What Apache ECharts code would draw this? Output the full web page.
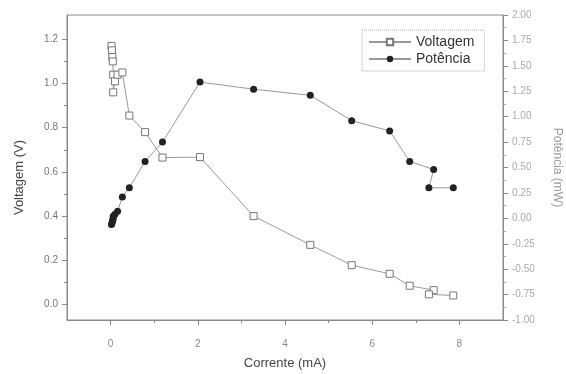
<!DOCTYPE html>
<html>
<head>
<meta charset="utf-8">
<script src="https://cdn.jsdelivr.net/npm/echarts@6/dist/echarts.min.js"></script>
<style>
  html, body { margin: 0; padding: 0; background: #fff; }
  #chart { width: 566px; height: 374px; }
</style>
</head>
<body>
<div id="chart"></div>
<script>
// Corrente (mA), shared by both curves
const current = [0.02, 0.03, 0.04, 0.05, 0.06, 0.06, 0.10, 0.16, 0.27, 0.43, 0.79, 1.19, 2.05, 3.28, 4.58, 5.53, 6.40, 6.86, 7.41, 7.30, 7.86];
// Voltagem (V)
const voltage = [1.17, 1.15, 1.12, 1.10, 1.04, 0.96, 1.01, 1.04, 1.05, 0.855, 0.78, 0.665, 0.667, 0.40, 0.27, 0.178, 0.139, 0.085, 0.065, 0.046, 0.041];
// Potência (mW)
const power = [-0.06, -0.05, -0.03, -0.02, 0.00, 0.02, 0.04, 0.07, 0.21, 0.30, 0.56, 0.75, 1.34, 1.27, 1.21, 0.96, 0.86, 0.56, 0.48, 0.30, 0.30];

const xMajor = [0, 2, 4, 6, 8];
const xMinor = [1, 3, 5, 7];
const vMajor = [0, 0.2, 0.4, 0.6, 0.8, 1.0, 1.2];
const vMinor = [0.1, 0.3, 0.5, 0.7, 0.9, 1.1];

const chart = echarts.init(document.getElementById('chart'));

const axisGrey = '#8a8a8a';
const font = 'Liberation Sans, Arial, sans-serif';

const option = {
    animation: false,
    grid: {
        left: 67, right: 63, top: 15, bottom: 54,
        outerBoundsMode: 'none',
        containLabel: false,
        show: true, borderColor: axisGrey, borderWidth: 1, backgroundColor: 'transparent'
    },
    legend: {
        left: 362, top: 30,
        orient: 'vertical',
        itemWidth: 42, itemHeight: 8, itemGap: 3,
        padding: [5, 10, 5, 6],
        borderColor: '#aaa', borderWidth: 1, borderType: 'dotted',
        textStyle: { fontSize: 14, color: '#333', fontFamily: font },
        data: ['Voltagem', 'Potência']
    },
    xAxis: [{
        type: 'value', min: -1, max: 9, position: 'bottom',
        name: 'Corrente (mA)', nameLocation: 'middle', nameGap: 37,
        nameTextStyle: { fontSize: 13, color: '#444', fontFamily: font },
        axisLine: { show: true, onZero: false, lineStyle: { color: axisGrey } },
        axisTick: { show: true, customValues: xMajor, length: 5, lineStyle: { color: axisGrey } },
        axisLabel: { customValues: xMajor, margin: 19, fontSize: 10, color: '#888', fontFamily: font },
        splitLine: { show: false }
    }, {
        type: 'value', min: -1, max: 9, position: 'bottom',
        axisLine: { show: false, onZero: false },
        axisTick: { show: true, customValues: xMinor, length: 3, lineStyle: { color: axisGrey } },
        axisLabel: { show: false },
        splitLine: { show: false }
    }],
    yAxis: [{
        type: 'value', min: -0.07, max: 1.31, position: 'left',
        name: 'Voltagem (V)', nameLocation: 'middle', nameGap: 41, nameRotate: 90,
        nameTextStyle: { fontSize: 13, color: '#444', fontFamily: font, padding: [0, 20, 0, 0] },
        axisLine: { show: true, onZero: false, lineStyle: { color: axisGrey } },
        axisTick: { show: true, customValues: vMajor, length: 5, lineStyle: { color: axisGrey } },
        axisLabel: {
            customValues: vMajor, margin: 9, fontSize: 10, color: '#777', fontFamily: font,
            formatter: v => v.toFixed(1)
        },
        splitLine: { show: false }
    }, {
        type: 'value', min: -1, max: 2, interval: 0.25, position: 'right',
        name: 'Potência (mW)', nameLocation: 'middle', nameGap: 48, nameRotate: -90,
        nameTextStyle: { fontSize: 12, color: '#999', fontFamily: font },
        axisLine: { show: true, onZero: false, lineStyle: { color: axisGrey } },
        axisTick: { show: true, length: 5, lineStyle: { color: axisGrey } },
        minorTick: { show: true, splitNumber: 2, length: 3, lineStyle: { color: '#aaa' } },
        axisLabel: {
            margin: 9, fontSize: 10, color: '#aaa', fontFamily: font,
            formatter: v => v.toFixed(2)
        },
        splitLine: { show: false }
    }, {
        type: 'value', min: -0.07, max: 1.31, position: 'left',
        axisLine: { show: false, onZero: false },
        axisTick: { show: true, customValues: vMinor, length: 3, lineStyle: { color: axisGrey } },
        axisLabel: { show: false },
        splitLine: { show: false }
    }],
    series: [{
        name: 'Voltagem',
        type: 'line',
        xAxisIndex: 0, yAxisIndex: 0,
        data: current.map((c, i) => [c, voltage[i]]),
        symbol: 'rect', symbolSize: 7,
        lineStyle: { color: '#999', width: 1 },
        itemStyle: { color: '#fff', borderColor: '#777', borderWidth: 1 },
        z: 3
    }, {
        name: 'Potência',
        type: 'line',
        xAxisIndex: 0, yAxisIndex: 1,
        data: current.map((c, i) => [c, power[i]]),
        symbol: 'circle', symbolSize: 7,
        lineStyle: { color: '#999', width: 1 },
        itemStyle: { color: '#222', borderColor: '#222', borderWidth: 0 },
        z: 4
    }]
};

chart.setOption(option);
</script>
</body>
</html>
